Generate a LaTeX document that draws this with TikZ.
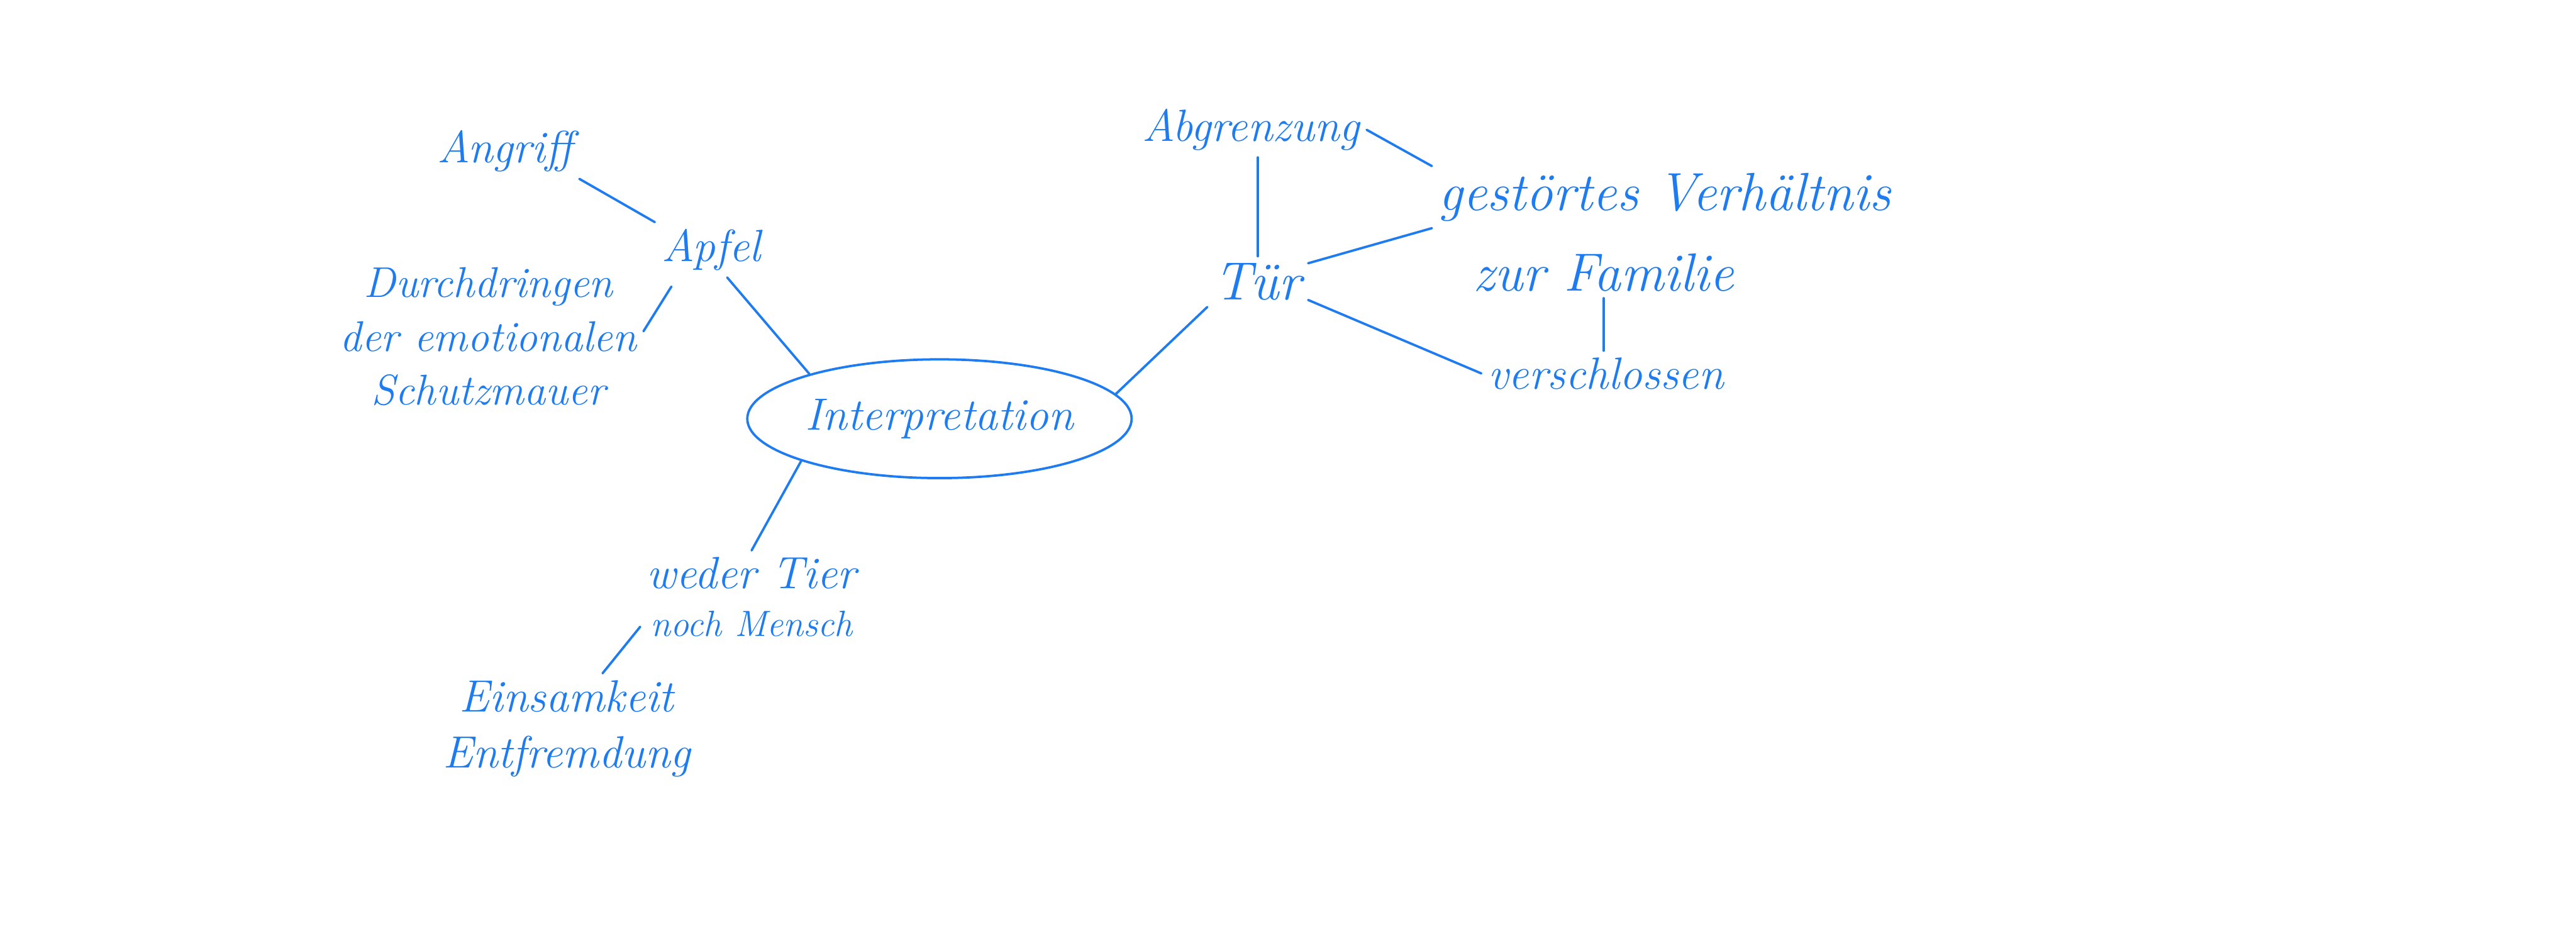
\documentclass[tikz,border=0pt]{standalone}
\usepackage{tikz}
\usetikzlibrary{shapes.geometric, calc}
\definecolor{ink}{RGB}{30,124,240}

\begin{document}
\begin{tikzpicture}[
		ink line/.style={draw=ink, line width=1.1pt, line cap=round},
		word/.style={text=ink, font=\fontsize{21}{26}\selectfont\itshape, inner sep=3pt, align=center},
		big word/.style={word, font=\fontsize{25}{30}\selectfont\itshape}
	]
	\useasboundingbox (0,0) rectangle (42.09,-15.20);

	\node[draw=ink, line width=1.1pt, ellipse, minimum width=6.28cm, minimum height=1.94cm, inner sep=0pt, text=ink, font=\fontsize{21}{26}\selectfont\itshape] (interp) at (15.35,-6.84) {Interpretation};

	\begin{scope}
		\node[word] (angriff) at (8.25,-2.47) {Angriff};
		\node[word] (apfel) at (11.62,-4.08) {Apfel};
		\node[word, font=\fontsize{20}{25}\selectfont\itshape] (durch) at (7.98,-5.50) {Durchdringen\\der emotionalen\\Schutzmauer};
	\end{scope}

	\begin{scope}
		\node[big word] (tuer) at (20.55,-4.60) {Tür};
		\node[word] (abgr) at (20.44,-2.12) {Abgrenzung};
		\node[big word] (gest) at (27.20,-3.22) {gestörtes Verhältnis};
		\node[big word] (fam) at (26.20,-4.45) {zur Familie};
		\node[word] (versch) at (26.24,-6.10) {verschlossen};
	\end{scope}

	\begin{scope}
		\node[word] (weder) at (12.28,-9.75) {weder Tier\\[-4pt]{\fontsize{17}{21}\selectfont noch Mensch}};
		\node[word] (eins) at (9.26,-11.90) {Einsamkeit\\Entfremdung};
	\end{scope}

	\begin{scope}[ink line]
		\draw (angriff.south east) -- (apfel.north west);
		\draw ($(apfel.south west)+(0.27,-0.15)$) -- (durch.2);
		\draw (apfel.-60) -- (interp.161);
		\draw (interp.8) -- (tuer.south west);
		\draw (interp.197) -- (weder.north);
		\draw (weder.195) -- (eins.57);
		\draw (tuer.north) -- (tuer.north |- abgr.south);
		\draw (abgr.east) -- (gest.north west);
		\draw (tuer.20) -- (gest.south west);
		\draw (tuer.-20) -- (versch.west);
		\draw (fam.south) -- (fam.south |- versch.north);
	\end{scope}
\end{tikzpicture}
\end{document}
